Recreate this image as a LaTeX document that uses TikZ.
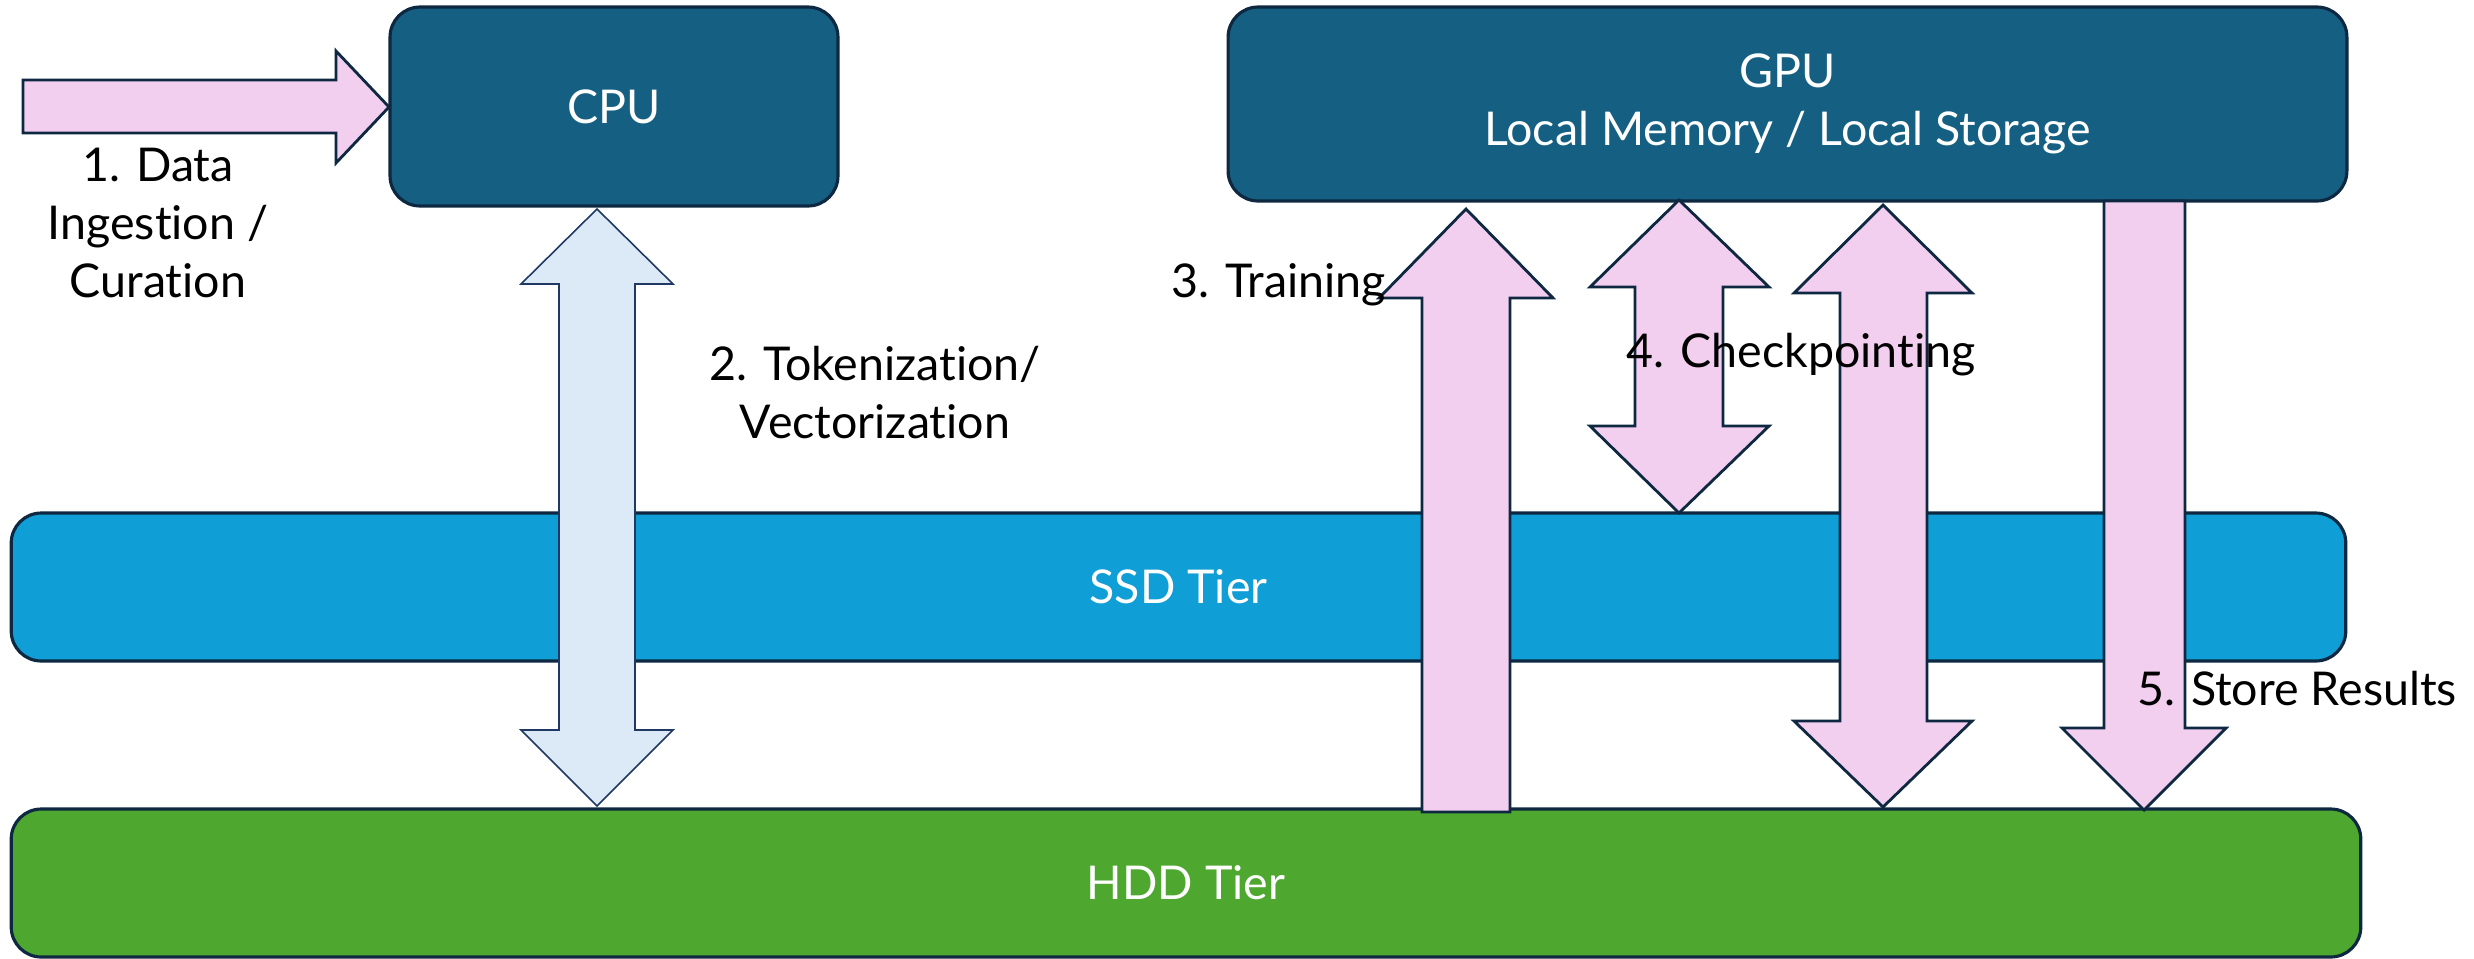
\documentclass[tikz,border=0pt]{standalone}
\usepackage{fontspec}
\setmainfont{Lato}[Ligatures=NoCommon]
\definecolor{procfill}{HTML}{156082}
\definecolor{ssdfill}{HTML}{0F9ED5}
\definecolor{hddfill}{HTML}{4EA72E}
\definecolor{edgedark}{HTML}{0E2841}
\definecolor{pinkfill}{HTML}{F2CEEF}
\definecolor{tokfill}{HTML}{DCE9F6}
\definecolor{tokedge}{HTML}{1F3864}
\begin{document}
\begin{tikzpicture}[x=0.02cm,y=-0.02cm,
  box/.style={draw=edgedark, line width=1.8pt, rounded corners=0.6cm, text=white,
    font=\fontsize{26.5}{33}\selectfont, align=center, inner sep=0pt},
  blockarrow/.style={draw=edgedark, line width=1.6pt, fill=pinkfill, line join=miter},
  tokarrow/.style={draw=tokedge, line width=0.9pt, fill=tokfill, line join=miter},
  lbl/.style={font=\fontsize{26.5}{33}\selectfont, align=center, inner sep=0pt, anchor=base, text=black}]
\useasboundingbox (0,0) rectangle (2474,958);
\fill[white] (0,0) rectangle (2474,958);

% boxes
\node[box, fill=procfill, minimum width=8.96cm, minimum height=3.98cm] (cpu) at (614,106.5) {CPU};
\node[box, fill=procfill, minimum width=22.38cm, minimum height=3.88cm] (gpu) at (1787.5,104) {GPU\\Local Memory / Local Storage};
\node[box, fill=ssdfill, minimum width=46.7cm, minimum height=2.96cm] (ssd) at (1178.5,587) {SSD Tier};
\node[box, fill=hddfill, minimum width=47cm, minimum height=2.96cm] (hdd) at (1186,883) {HDD Tier};

% 1. data ingestion arrow
\coordinate (dtip) at (389,107);
\draw[blockarrow] (23,80) -- (336,80) -- (336,51) -- (dtip) -- (336,163) -- (336,133) -- (23,133) -- cycle;

% 2. tokenization double arrow (CPU <-> HDD)
\draw[tokarrow] (597,209) -- (673,284) -- (635,284) -- (635,730) -- (673,730) -- (597,806)
  -- (521,730) -- (559,730) -- (559,284) -- (521,284) -- cycle;

% 3. training arrow (HDD -> GPU)
\draw[blockarrow] (1466,209) -- (1553,298) -- (1510,298) -- (1510,812) -- (1422,812)
  -- (1422,298) -- (1379,298) -- cycle;

% 4. checkpointing small double arrow (GPU <-> SSD)
\draw[blockarrow] (1679,200) -- (1769,287) -- (1723,287) -- (1723,426) -- (1769,426) -- (1679,513)
  -- (1590,426) -- (1635,426) -- (1635,287) -- (1590,287) -- cycle;

% 4. checkpointing large double arrow (GPU <-> HDD)
\draw[blockarrow] (1883,205) -- (1972,293) -- (1927,293) -- (1927,721) -- (1972,721) -- (1883,807)
  -- (1794,721) -- (1840,721) -- (1840,293) -- (1794,293) -- cycle;

% 5. store results arrow (GPU -> HDD)
\draw[blockarrow] (2104,201) -- (2185,201) -- (2185,728) -- (2226,728) -- (2144,810)
  -- (2062,728) -- (2104,728) -- cycle;

% labels
\node[lbl] (l1) at (158,297) {1. Data\\Ingestion /\\Curation};
\node[lbl] (l2) at (875,438) {2. Tokenization/\\Vectorization};
\node[lbl, anchor=base east] (l3) at (1386,297) {3. Training};
\node[lbl] (l4) at (1801,367) {4. Checkpointing};
\node[lbl] (l5) at (2297,705) {5. Store Results};
\end{tikzpicture}
\end{document}
